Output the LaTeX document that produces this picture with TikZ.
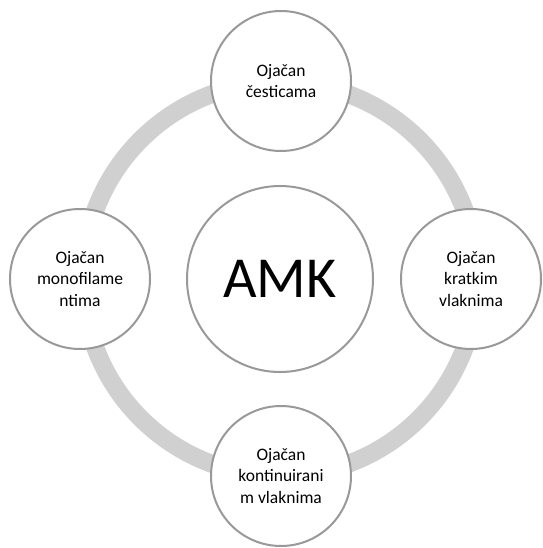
\documentclass[tikz,border=0pt]{standalone}
\usepackage{fontspec}
\setmainfont{Carlito}
\definecolor{ringgray}{HTML}{D0D0D0}
\definecolor{edgegray}{HTML}{999999}
\begin{document}
\begin{tikzpicture}[x=1pt,y=-1pt,
  outer/.style={circle,draw=edgegray,line width=2pt,fill=white,minimum size=140pt,inner sep=0pt,align=center,font=\fontsize{17.5}{21.5}\selectfont},
  hub/.style={circle,draw=edgegray,line width=2pt,fill=white,minimum size=186pt,inner sep=0pt,font=\fontsize{58}{60}\selectfont}]
\useasboundingbox (0,0) rectangle (542,548);
\coordinate (c) at (280,279);
\draw[ringgray,line width=18pt] (c) circle[radius=197];
\node[hub] (amk) at (c) {AMK};
\node[outer] (top) at (281,81) {Ojačan\\česticama};
\node[outer] (right) at (471,279) {Ojačan\\kratkim\\vlaknima};
\node[outer] (bottom) at (281,476) {Ojačan\\kontinuirani\\m vlaknima};
\node[outer] (left) at (80,279) {Ojačan\\monofilame\\ntima};
\end{tikzpicture}
\end{document}
